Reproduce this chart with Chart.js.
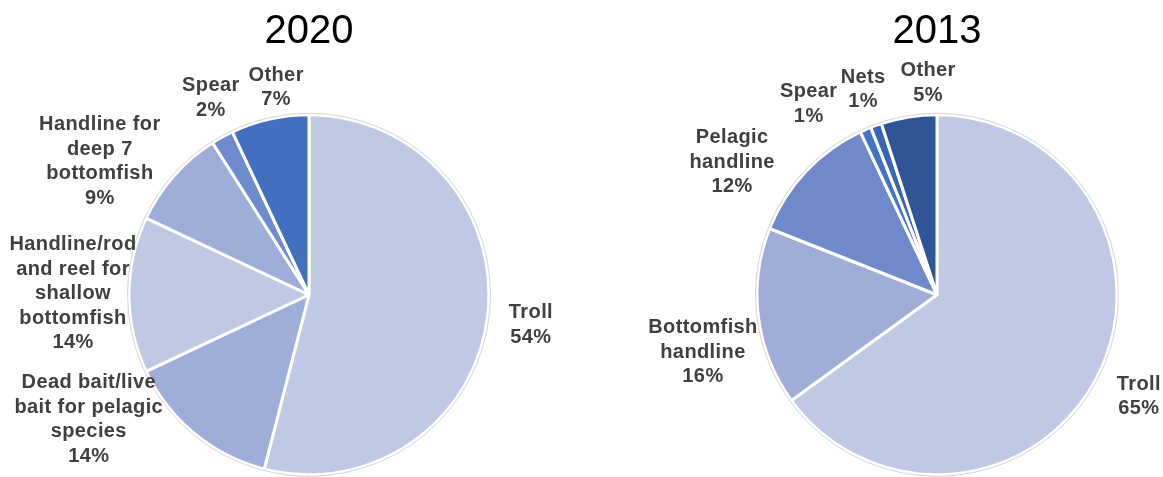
<!DOCTYPE html>
<html>
<head>
<meta charset="utf-8">
<script src="https://cdn.jsdelivr.net/npm/chart.js@4.4.0/dist/chart.umd.min.js"></script>
<style>
html, body { margin: 0; padding: 0; background: #fff; overflow: hidden; width: 1163px; height: 477px; }
canvas { position: absolute; top: 0; }
#pie2020 { left: 0; }
#pie2013 { left: 640px; }
</style>
</head>
<body>
<canvas id="pie2020" width="618" height="477"></canvas>
<canvas id="pie2013" width="594" height="477"></canvas>
<script>
// 2020
const labels2020 = ['Troll', 'Dead bait/live bait for pelagic species', 'Handline/rod and reel for shallow bottomfish',
    'Handline for deep 7 bottomfish', 'Spear', 'Other'];
const values2020 = [54, 14, 14, 9, 2, 7];
const colors2020 = ['#BFC9E4', '#9FAED8', '#BFC9E4', '#9FAED8', '#6F8BCD', '#426FC0'];

// 2013
const labels2013 = ['Troll', 'Bottomfish handline', 'Pelagic handline', 'Spear', 'Nets', 'Other'];
const values2013 = [65, 16, 12, 1, 1, 5];
const colors2013 = ['#BFC9E4', '#9FADD7', '#6F89CA', '#4472C4', '#3A65B5', '#2F5597'];

// where each label sits: [distance from centre, angle nudge in degrees]
const place2020 = [[224, 0.6], [253, 20.9], [236, 0.2], [248, -8.9], [220, 2.3], [210, 3.6]];
const place2013 = [[226, -0.3], [241, -6.6], [244, -10.3], [230, -10.5], [218, 0], [212, 6.6]];

const FONT = '"Liberation Sans", Arial, sans-serif';

function wrap(ctx, text, maxW) {
    const words = text.split(' ');
    const lines = [];
    let cur = '';
    words.forEach(w => {
        const test = cur ? cur + ' ' + w : w;
        if (cur && ctx.measureText(test).width > maxW) {
            lines.push(cur);
            cur = w;
        } else {
            cur = test;
        }
    });
    lines.push(cur);
    return lines;
}

const sliceLabels = {
    id: 'sliceLabels',
    afterDatasetsDraw(chart, args, opts) {
        const ctx = chart.ctx;
        const meta = chart.getDatasetMeta(0);
        const values = chart.data.datasets[0].data;
        ctx.save();
        // faint outline round the pie
        const first = meta.data[0].getProps(['x', 'y', 'outerRadius'], true);
        ctx.beginPath();
        ctx.arc(first.x, first.y, first.outerRadius + 1.5, 0, Math.PI * 2);
        ctx.strokeStyle = '#D4D4D4';
        ctx.lineWidth = 1;
        ctx.stroke();

        ctx.font = 'bold 20px ' + FONT;
        ctx.letterSpacing = '0.4px';
        ctx.fillStyle = '#404040';
        ctx.textAlign = 'center';
        ctx.textBaseline = 'middle';
        meta.data.forEach((arc, i) => {
            const p = arc.getProps(['x', 'y', 'startAngle', 'endAngle'], true);
            const [dist, nudge] = opts.place[i];
            const a = (p.startAngle + p.endAngle) / 2 + nudge * Math.PI / 180;
            const cx = p.x + Math.cos(a) * dist;
            const cy = p.y + Math.sin(a) * dist;
            const lines = wrap(ctx, chart.data.labels[i], 158);
            lines.push(Math.round(values[i]) + '%');
            const lh = 24.5;
            const y0 = cy - (lines.length - 1) * lh / 2;
            lines.forEach((l, k) => ctx.fillText(l, cx, y0 + k * lh));
        });
        ctx.restore();
    }
};

function createPie(id, year, labels, values, colors, place) {
    const ctx = document.getElementById(id).getContext('2d');
    return new Chart(ctx, {
        type: 'pie',
        data: {
            labels: labels,
            datasets: [{
                data: values,
                backgroundColor: colors,
                borderColor: '#FFFFFF',
                borderWidth: 3
            }]
        },
        options: {
            responsive: false,
            animation: false,
            radius: 180,
            layout: { padding: { bottom: 3 } },
            plugins: {
                legend: { display: false },
                tooltip: { enabled: false },
                title: {
                    display: true,
                    text: year,
                    color: '#000000',
                    font: { family: FONT, size: 40, weight: 'normal', lineHeight: 1.2 },
                    padding: { top: 7.5, bottom: 60 }
                },
                sliceLabels: { place: place }
            }
        },
        plugins: [sliceLabels]
    });
}

createPie('pie2020', '2020', labels2020, values2020, colors2020, place2020);
createPie('pie2013', '2013', labels2013, values2013, colors2013, place2013);
</script>
</body>
</html>
